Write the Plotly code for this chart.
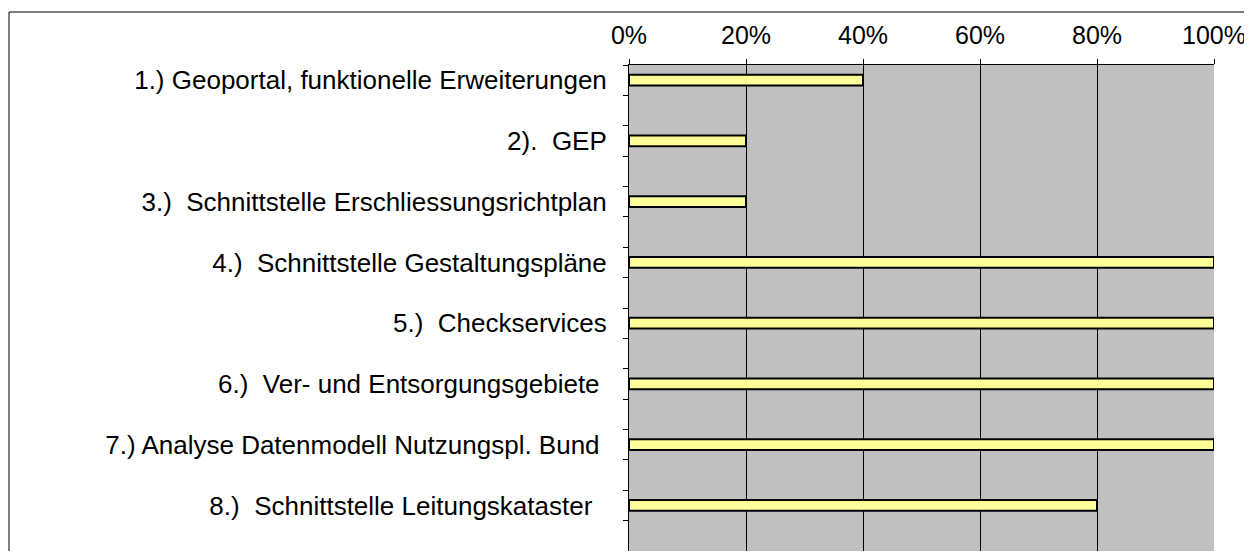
import plotly.graph_objects as go

categories = [
    "1.) Geoportal, funktionelle Erweiterungen",
    "2).  GEP",
    "3.)  Schnittstelle Erschliessungsrichtplan",
    "4.)  Schnittstelle Gestaltungspläne",
    "5.)  Checkservices",
    "6.)  Ver- und Entsorgungsgebiete ",
    "7.) Analyse Datenmodell Nutzungspl. Bund ",
    "8.)  Schnittstelle Leitungskataster  ",
]
values = [0.40, 0.20, 0.20, 1.00, 1.00, 1.00, 1.00, 0.80]
x_ticks = [0, 0.2, 0.4, 0.6, 0.8, 1.0]
x_tick_labels = ["0%", "20%", "40%", "60%", "80%", "100%"]

# each category occupies the upper half of a two-slot band
slots = [2 * i + 0.5 for i in range(len(categories))]
n_slots = 2 * len(categories)

FONT = "Liberation Sans, Arial, sans-serif"

fig = go.Figure(
    go.Bar(
        x=values,
        y=slots,
        orientation="h",
        width=0.35,
        marker=dict(color="#FFFF99", line=dict(color="black", width=2)),
        hoverinfo="x",
    )
)

# page body has an 8px margin
W, H = 1240, 543
L, R, T, B = 621, 34, 57, 0
pw, ph = W - L - R, H - T - B

fig.update_layout(
    width=W,
    height=H,
    margin=dict(l=L, r=R, t=T, b=B, pad=0),
    paper_bgcolor="white",
    plot_bgcolor="#C0C0C0",
    showlegend=False,
    font=dict(family=FONT, size=25, color="black"),
    xaxis=dict(
        side="top",
        range=[0, 1],
        tickvals=x_ticks,
        ticktext=x_tick_labels,
        ticks="outside",
        ticklen=5,
        tickcolor="black",
        showline=True,
        linecolor="black",
        linewidth=1,
        showgrid=False,
        zeroline=False,
        minor=dict(tickvals=x_ticks[1:-1], showgrid=True, gridcolor="black",
                   gridwidth=1, ticks=""),
        ticklabelstandoff=5,
        tickfont=dict(size=25),
        fixedrange=True,
    ),
    yaxis=dict(
        range=[n_slots, 0],
        tickvals=slots,
        ticktext=categories,
        ticks="",
        showline=True,
        linecolor="black",
        linewidth=1,
        showgrid=False,
        zeroline=False,
        minor=dict(tickvals=list(range(n_slots + 1)), ticks="outside",
                   ticklen=5, tickcolor="black", showgrid=False),
        ticklabelstandoff=16,
        tickfont=dict(size=26),
        fixedrange=True,
    ),
    shapes=[
        dict(
            type="rect", xref="paper", yref="paper",
            x0=(1 - L) / pw, x1=1.2,
            y0=-0.2, y1=(H - B - 4) / ph,
            line=dict(color="black", width=1),
            fillcolor="rgba(0,0,0,0)",
            layer="below",
        )
    ],
)

fig.write_html("out.html")
